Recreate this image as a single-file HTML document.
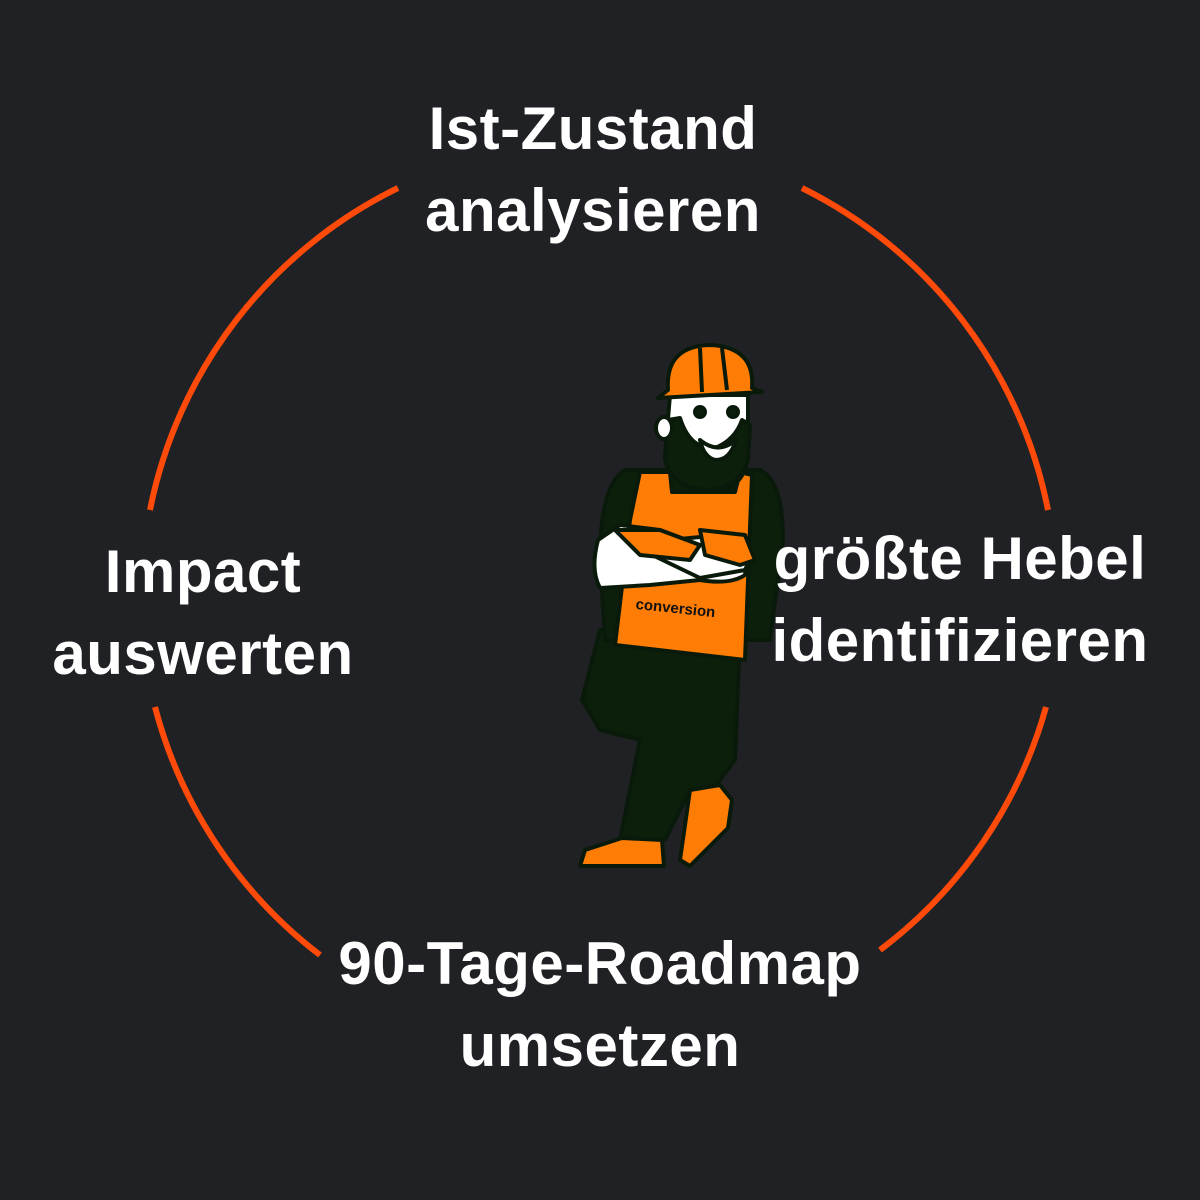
<!DOCTYPE html>
<html><head><style>
html,body{margin:0;padding:0;background:#202125;}
body{width:1200px;height:1200px;position:relative;overflow:hidden;font-family:"Liberation Sans",sans-serif;}
.t{position:absolute;color:#fff;font-weight:bold;font-size:60px;line-height:82px;text-align:center;white-space:nowrap;letter-spacing:0.5px;}
</style></head><body>
<svg width="1200" height="1200" style="position:absolute;left:0;top:0">
<g fill="none" stroke="#ff4a0a" stroke-width="6">
<path d="M398,188 A458,458 0 0 0 150,510"/>
<path d="M802,188 A458,458 0 0 1 1048,510"/>
<path d="M1046,707 A458,458 0 0 1 880,950"/>
<path d="M155,707 A458,458 0 0 0 320,955"/>
</g>
<g stroke="#0a1a0a" stroke-width="4" stroke-linejoin="round">
<path d="M600,630 L740,635 L735,760 L705,800 L690,790 L665,840 L620,840 L640,740 L600,730 L582,700 Z" fill="#0b1f0b"/>
<path d="M690,790 L720,785 L732,800 L728,828 L690,866 L680,860 Z" fill="#ff7d05"/>
<path d="M622,838 L662,840 L664,866 L580,866 L585,850 Z" fill="#ff7d05"/>
<path d="M625,470 L760,470 Q783,480 783,540 L770,640 L605,640 L600,560 Q600,485 625,470 Z" fill="#0b1f0b"/>
<path d="M640,472 L670,472 L672,492 L735,492 L740,472 L752,475 L745,660 L615,645 L630,520 Z" fill="#ff7d05"/>
<path d="M598,540 Q590,570 600,588 L650,585 L700,580 Q730,585 745,575 L748,550 L700,545 L660,530 L620,525 Z" fill="#fff"/>
<path d="M648,553 L700,578 L745,570 L752,555 L720,535 L670,540 Z" fill="#fff"/>
<path d="M615,530 L660,530 L700,545 L690,560 L640,555 Z" fill="#ff7d05"/>
<path d="M700,530 L745,535 L755,560 L740,565 L705,555 Z" fill="#ff7d05"/>
<path d="M670,395 L748,395 L748,455 Q745,490 710,492 Q670,490 665,455 Z" fill="#fff"/>
<path d="M668,420 L680,418 Q690,450 715,448 Q735,440 742,420 L750,425 L748,460 Q740,488 708,490 Q672,488 665,460 Z" fill="#0b1f0b"/>
<ellipse cx="664" cy="428" rx="8" ry="11" fill="#fff"/>
<path d="M700,440 Q718,455 736,440 Q730,460 716,460 Q704,458 700,440 Z" fill="#fff"/>
<circle cx="700" cy="412" r="5" fill="#0b1f0b"/>
<circle cx="733" cy="412" r="5" fill="#0b1f0b"/>
<path d="M668,390 Q665,345 712,345 Q755,348 752,388 L762,392 L658,398 Z" fill="#ff7d05"/>
<path d="M700,348 L702,392 M722,348 L727,390" fill="none"/>
</g>
<text x="675" y="613" font-family="Liberation Sans,sans-serif" font-size="15" font-weight="bold" fill="#111" transform="rotate(6 675 613)" text-anchor="middle">conversion</text>
</svg>
<div class="t" style="left:393px;width:400px;top:88px">Ist-Zustand<br>analysieren</div>
<div class="t" style="left:3px;width:400px;top:531px">Impact<br>auswerten</div>
<div class="t" style="left:760px;width:400px;top:518px">größte Hebel<br>identifizieren</div>
<div class="t" style="left:300px;width:600px;top:923px">90-Tage-Roadmap<br>umsetzen</div>
</body></html>
